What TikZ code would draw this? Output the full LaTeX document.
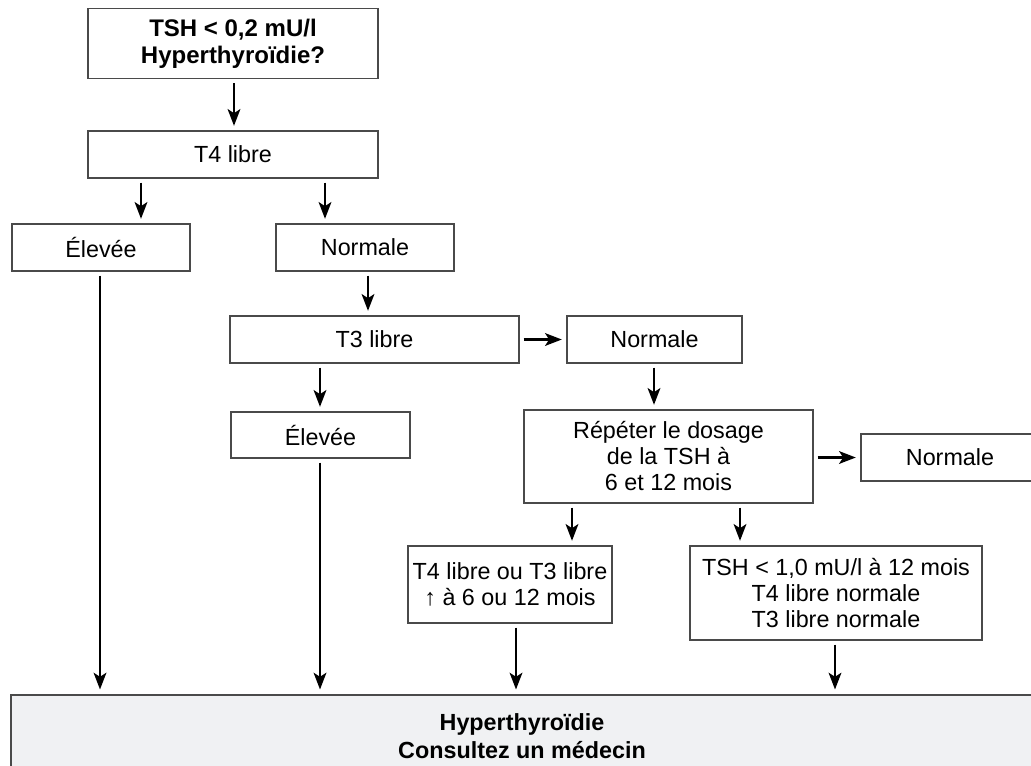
\documentclass[tikz,border=0pt]{standalone}
\usepackage{fontspec}
\setmainfont{Liberation Sans}
\usetikzlibrary{arrows.meta}
\definecolor{boxgrey}{HTML}{4A4A4A}
\definecolor{panelgrey}{HTML}{F0F1F3}

\begin{document}
\begin{tikzpicture}[
    x=0.75pt, y=-0.75pt,
    every node/.style={font=\fontsize{17.5}{19.5}\selectfont},
    box/.style={draw=boxgrey, line width=0.8pt, rectangle, inner sep=0pt,
                align=center, fill=white},
    arrow/.style={-{Stealth[length=12.5pt,width=9.5pt,inset=3pt]}, line width=1.8pt,
                  shorten >=3.5pt, shorten <=3pt},
    result/.style={draw=boxgrey, line width=1.3pt, fill=panelgrey, rectangle,
                   inner sep=0pt, align=center, font=\fontsize{17.5}{21}\selectfont\bfseries},
]
\useasboundingbox (0,0) rectangle (1031,765);
\clip (0,0) rectangle (1031,765);

% --- first test and branches ---
\node[box, minimum width=217.5pt, minimum height=52.5pt,
      font=\fontsize{18}{20.5}\selectfont\bfseries]
     (tsh) at (233,43.5) {TSH < 0,2 mU/l\\Hyperthyroïdie?};
\node[box, minimum width=217.5pt, minimum height=35.25pt]
     (tfour) at (233,154.5) {T4 libre};
\node[box, minimum width=133.5pt, minimum height=35.25pt]
     (elevA) at (101,247.5) {Élevée};
\node[box, minimum width=133.5pt, minimum height=35.25pt]
     (normA) at (365,247.5) {Normale};

% --- T3 level ---
\node[box, minimum width=216.75pt, minimum height=35.25pt]
     (tthree) at (374.5,339.5) {T3 libre};
\node[box, minimum width=131.25pt, minimum height=35.25pt]
     (normB) at (654.5,339.5) {Normale};
\node[box, minimum width=134.25pt, minimum height=34.5pt]
     (elevB) at (320.5,435) {Élevée};

% --- follow-up ---
\node[box, minimum width=216.75pt, minimum height=69.75pt]
     (repeter) at (668.5,456.5) {Répéter le dosage\\de la TSH à\\6 et 12 mois};
\node[box, minimum width=133.5pt, minimum height=35.25pt]
     (normC) at (950,457.5) {Normale};
\node[box, minimum width=153pt, minimum height=57.75pt]
     (up) at (510,584.5) {T4 libre ou T3 libre\\↑ à 6 ou 12 mois};
\node[box, minimum width=219pt, minimum height=70.5pt]
     (tshlow) at (836,593) {TSH < 1,0 mU/l à 12 mois\\T4 libre normale\\T3 libre normale};

% --- common outcome (runs off the right and bottom edges) ---
\node[result, minimum width=766.5pt, minimum height=61.5pt]
     (hyper) at (522,736) {Hyperthyroïdie\\Consultez un médecin};

% --- connectors ---
\draw[arrow] (tsh.south -| 234,0) -- (tfour.north -| 234,0);
\draw[arrow] (tfour.south -| 141,0) -- (elevA.north -| 141,0);
\draw[arrow] (tfour.south -| 325,0) -- (normA.north -| 325,0);
\draw[arrow] (normA.south -| 368,0) -- (tthree.north -| 368,0);
\draw[arrow] (tthree.east) -- (normB.west);
\draw[arrow] (tthree.south -| 320,0) -- (elevB.north -| 320,0);
\draw[arrow] (normB.south -| 654,0) -- (repeter.north -| 654,0);
\draw[arrow] (repeter.east |- normC.west) -- (normC.west);
\draw[arrow] (repeter.south -| 572,0) -- (up.north -| 572,0);
\draw[arrow] (repeter.south -| 740,0) -- (tshlow.north -| 740,0);
\draw[arrow] (elevA.south -| 100,0) -- (hyper.north -| 100,0);
\draw[arrow] (elevB.south -| 320,0) -- (hyper.north -| 320,0);
\draw[arrow] (up.south -| 516,0) -- (hyper.north -| 516,0);
\draw[arrow] (tshlow.south -| 835,0) -- (hyper.north -| 835,0);

\end{tikzpicture}
\end{document}
